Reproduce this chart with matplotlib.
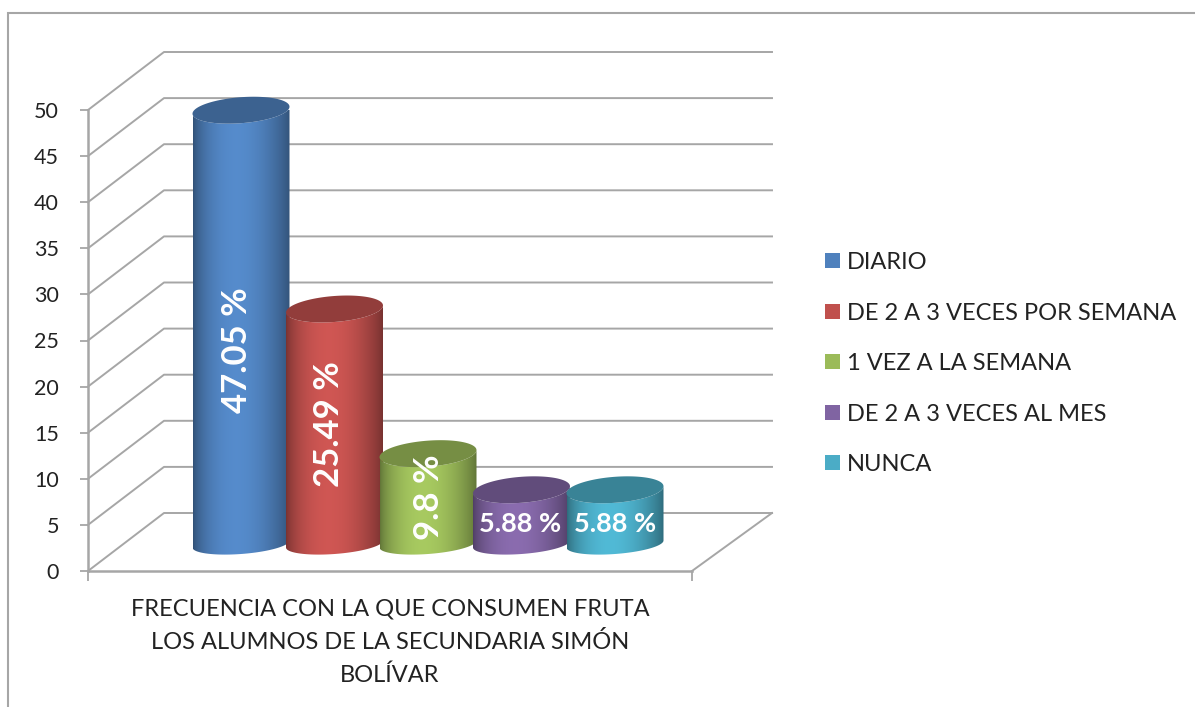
import numpy as np
from matplotlib import pyplot as plt
from matplotlib.patches import PathPatch, Rectangle
from matplotlib.path import Path
from matplotlib.colors import to_rgb

plt.rcParams['font.family'] = ['Lato', 'DejaVu Sans']

categories = ["DIARIO", "DE 2 A 3 VECES POR SEMANA", "1 VEZ A LA SEMANA",
              "DE 2 A 3 VECES AL MES", "NUNCA"]
values = [47.05, 25.49, 9.8, 5.88, 5.88]
yticks = [0, 5, 10, 15, 20, 25, 30, 35, 40, 45, 50]
xlabel = "FRECUENCIA CON LA QUE CONSUMEN FRUTA\nLOS ALUMNOS DE LA SECUNDARIA SIMÓN\nBOLÍVAR"
colors = ["#4F81BD", "#C0504D", "#9BBB59", "#8064A2", "#4BACC6"]

# layout, in pixels of the 1195x707 picture
W, H = 1195, 707
AX_L, AX_R, AX_T, AX_B = 88, 692, 110, 571
STEP = 93.5      # px between cylinders
PX_Y = (AX_B - AX_T) / 50
GRID = "#A6A6A6"

fig = plt.figure(figsize=(W / 100, H / 100), dpi=100)
fig.patches.append(Rectangle((8 / W, -0.01), (W - 8 + 5) / W, (H - 13) / H + 0.01, zorder=-1,
                             transform=fig.transFigure, fc="white", ec="#A6A6A6", lw=1.5))
ax = fig.add_axes([AX_L / W, (H - AX_B) / H, (AX_R - AX_L) / W, (AX_B - AX_T) / H])
ax.patch.set_visible(False)

xmin, xmax = (AX_L - 241) / STEP, (AX_R - 241) / STEP
depth_x, depth_y = 76 / STEP, 58 / PX_Y
end_x = 80 / STEP

# grid, goes back along the side wall and then along the back wall
for v in yticks:
    ax.plot([xmin, xmin + depth_x, xmax + end_x], [v, v + depth_y, v + depth_y],
            color=GRID, lw=1.4, clip_on=False, zorder=1)
ax.plot([xmax, xmax + end_x], [0, depth_y], color=GRID, lw=1.4, clip_on=False, zorder=1)


def ellipse(cx, cy, a, b, k, t):
    # sheared ellipse, right side sits higher than the left one
    return cx + a * np.cos(t), cy + b * np.sin(t) / PX_Y + k * np.cos(t) / PX_Y


grad = np.linspace(0, 1, 200)
shade = 0.62 + 0.46 * np.sin(np.pi * grad ** 0.85) ** 0.8
a = 48.5 / STEP
b, b_low, k = 13, 10, 3.5
base = 27 / PX_Y   # cylinder axis sits this far into the floor

for i, (v, c) in enumerate(zip(values, colors)):
    top = v + base
    t1 = np.linspace(0, np.pi, 60)
    xb, yb = ellipse(i, base, a, b_low, k, -t1)   # front of the base
    xt, yt = ellipse(i, top, a, b, k, t1 + np.pi)
    body = np.column_stack([np.r_[xb, xt], np.r_[yb, yt]])
    rgb = np.array(to_rgb(c))
    img = np.clip(rgb[None, None, :] * shade[None, :, None], 0, 1)
    im = ax.imshow(img, extent=[i - a, i + a, 0, 60], aspect='auto', zorder=3 + i,
                   interpolation='bilinear', clip_on=True)
    im.set_clip_path(PathPatch(Path(body), transform=ax.transData))
    xc, yc = ellipse(i, top, a, b, k, np.linspace(0, 2 * np.pi, 120))
    ax.fill(xc, yc, color=rgb * 0.76, zorder=3 + i, clip_on=False, lw=0)

ax.set_xlim(xmin, xmax)
ax.set_ylim(0, 50)

# data labels
label_y = [24, 15.9, 8.0, 5.1, 5.1]
label_dx = [-0.04, -0.06, 0.01, -0.02, 0]
for i, v in enumerate(values):
    ax.text(i + label_dx[i], label_y[i], f"{v:g} %", color="white", ha="center", va="center",
            rotation=90 if v > 9 else 0, fontsize=25 if v > 9 else 19.5,
            fontweight="bold", zorder=10)

for s in ("top", "right"):
    ax.spines[s].set_visible(False)
for s in ("left", "bottom"):
    ax.spines[s].set_color(GRID)
    ax.spines[s].set_linewidth(1.8)
ax.set_yticks(yticks)
ax.set_xticks([xmin, xmax])
ax.set_xticklabels(["", ""])
ax.tick_params(axis="y", length=6, width=1.3, color=GRID, labelsize=15.5, labelcolor="#222222", pad=15)
ax.tick_params(axis="x", length=7, width=1.3, color=GRID)
ax.set_xlabel(xlabel, fontsize=17, color="#222222", labelpad=9, linespacing=1.67)

# legend
handles = [Rectangle((0, 0), 1, 1, fc=c) for c in colors]
fig.legend(handles, categories, loc="upper left", bbox_to_anchor=(825 / W, (H - 252) / H),
           frameon=False, fontsize=17, labelcolor="#222222", handlelength=0.62, handleheight=0.62,
           handletextpad=0.3, labelspacing=1.25, borderpad=0, borderaxespad=0)

fig.savefig("out.png", dpi=100)
